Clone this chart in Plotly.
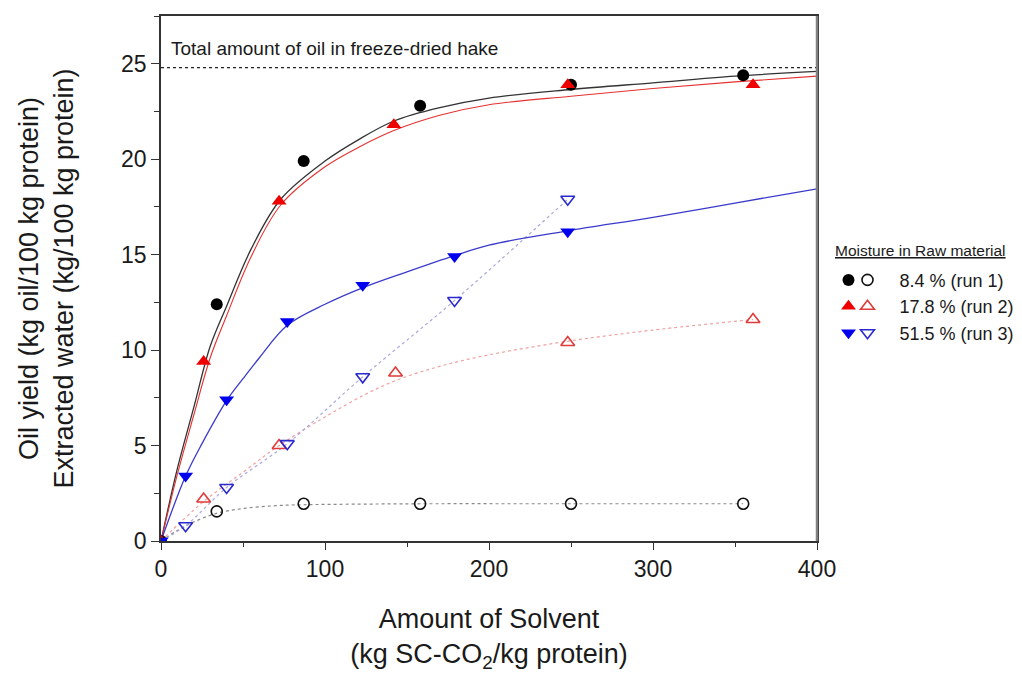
import plotly.graph_objects as go

# ---------------- data ----------------
# run 1 : 8.4 % moisture
solvent_oil_run1 = [0, 34, 87, 158, 250, 355]
oil_run1 = [0, 12.4, 19.9, 22.8, 23.9, 24.4]
solvent_water_run1 = [34, 87, 158, 250, 355]
water_run1 = [1.55, 1.95, 1.95, 1.95, 1.95]

# run 2 : 17.8 % moisture
solvent_oil_run2 = [0, 26, 72, 142, 248, 361]
oil_run2 = [0, 9.4, 17.8, 21.8, 23.9, 23.9]
solvent_water_run2 = [26, 72, 143, 248, 361]
water_run2 = [2.2, 5.0, 8.8, 10.4, 11.6]

# run 3 : 51.5 % moisture
solvent_oil_run3 = [0, 15, 40, 77, 123, 179, 248]
oil_run3 = [0, 3.4, 7.4, 11.5, 13.4, 14.9, 16.2]
solvent_water_run3 = [15, 40, 77, 123, 179, 248]
water_run3 = [0.8, 2.8, 5.1, 8.6, 12.6, 17.9]

# fitted curves (oil)
fit_x = [0, 10, 20, 30, 40, 55, 73, 100, 120, 142, 170, 200, 250, 300, 350, 400]
fit_oil_run1 = [0, 3.8, 7.0, 10.2, 12.3, 15.3, 17.9, 19.9, 21.0, 22.0, 22.7, 23.2, 23.65, 24.0, 24.35, 24.6]
fit_oil_run2 = [0, 3.5, 6.6, 9.6, 11.8, 14.9, 17.6, 19.6, 20.6, 21.5, 22.3, 22.85, 23.3, 23.7, 24.05, 24.35]
fit3_x = [0, 15, 25, 40, 50, 60, 77, 100, 124, 150, 179, 200, 248, 300, 350, 400]
fit_oil_run3 = [0, 3.4, 5.1, 7.35, 8.5, 9.6, 11.3, 12.4, 13.3, 14.1, 14.95, 15.5, 16.25, 16.95, 17.7, 18.45]

# fitted curves (water)
wfit1_x = [0, 10, 20, 34, 50, 70, 87, 120, 158, 250, 355]
wfit_run1 = [0, 0.55, 1.0, 1.45, 1.7, 1.85, 1.9, 1.93, 1.95, 1.95, 1.95]
wfit2_x = [0, 25, 50, 72, 100, 125, 143, 170, 200, 247, 300, 361]
wfit_run2 = [0, 2.0, 3.6, 5.0, 6.5, 7.7, 8.4, 9.15, 9.75, 10.45, 11.05, 11.6]
wfit3_x = [0, 15, 40, 77, 123, 179, 248]
wfit_run3 = [0, 0.8, 2.8, 5.1, 8.6, 12.6, 17.9]

total_oil = 24.8
x_range = [0, 400]
y_range = [0, 27.5]
x_ticks = [0, 100, 200, 300, 400]
y_ticks = [0, 5, 10, 15, 20, 25]

run_labels = ["8.4 % (run 1)", "17.8 % (run 2)", "51.5 % (run 3)"]

FONT = "Arial, Liberation Sans, sans-serif"
TXT = "#1a1a1a"

fig = go.Figure()

# ---- fitted curves ----
fig.add_trace(go.Scatter(x=wfit1_x, y=wfit_run1, mode="lines", line=dict(color="#8a8a8a", width=1.2, dash="dot", shape="spline"), showlegend=False, hoverinfo="skip"))
fig.add_trace(go.Scatter(x=wfit2_x, y=wfit_run2, mode="lines", line=dict(color="#f2a0a0", width=1.2, dash="dot", shape="spline"), showlegend=False, hoverinfo="skip"))
fig.add_trace(go.Scatter(x=wfit3_x, y=wfit_run3, mode="lines", line=dict(color="#a8a8dc", width=1.2, dash="dot", shape="spline"), showlegend=False, hoverinfo="skip"))
fig.add_trace(go.Scatter(x=fit_x, y=fit_oil_run1, mode="lines", line=dict(color="#333333", width=1.3, shape="spline"), showlegend=False, hoverinfo="skip"))
fig.add_trace(go.Scatter(x=fit_x, y=fit_oil_run2, mode="lines", line=dict(color="#e53030", width=1.1, shape="spline"), showlegend=False, hoverinfo="skip"))
fig.add_trace(go.Scatter(x=fit3_x, y=fit_oil_run3, mode="lines", line=dict(color="#3a3acc", width=1.3, shape="spline"), showlegend=False, hoverinfo="skip"))

# total oil line
fig.add_trace(go.Scatter(x=x_range, y=[total_oil, total_oil], mode="lines", line=dict(color="#222222", width=1.2, dash="3px,3px"), showlegend=False, hoverinfo="skip"))

# ---- open markers (water) ----
fig.add_trace(go.Scatter(x=solvent_water_run1, y=water_run1, mode="markers", name=run_labels[0], legend="legend",
                         marker=dict(symbol="circle-open", size=11, color="#111111", line=dict(width=1.6))))
fig.add_trace(go.Scatter(x=solvent_water_run2, y=water_run2, mode="markers", name=run_labels[1], legend="legend",
                         marker=dict(symbol="triangle-up-open", size=12, color="#e03a3a", line=dict(width=1.6))))
fig.add_trace(go.Scatter(x=solvent_water_run3, y=water_run3, mode="markers", name=run_labels[2], legend="legend",
                         marker=dict(symbol="triangle-down-open", size=12, color="#2a2ad0", line=dict(width=1.6))))

# ---- filled markers (oil) ----
fig.add_trace(go.Scatter(x=solvent_oil_run1, y=oil_run1, mode="markers", name=run_labels[0], legend="legend2",
                         marker=dict(symbol="circle", size=12, color="#000000")))
fig.add_trace(go.Scatter(x=solvent_oil_run2, y=oil_run2, mode="markers", name=run_labels[1], legend="legend2",
                         marker=dict(symbol="triangle-up", size=13, color="#ee0000")))
fig.add_trace(go.Scatter(x=solvent_oil_run3, y=oil_run3, mode="markers", name=run_labels[2], legend="legend2",
                         marker=dict(symbol="triangle-down", size=13, color="#0000ee")))

fig.add_annotation(x=5, y=25.8, xref="x", yref="y", xanchor="left", yanchor="middle",
                   text="Total amount of oil in freeze-dried hake", showarrow=False,
                   font=dict(family=FONT, size=19, color=TXT))

fig.add_annotation(x=1.024, y=0.553, xref="paper", yref="paper", xanchor="left", yanchor="middle",
                   text="<u>Moisture in Raw material</u>", showarrow=False,
                   font=dict(family=FONT, size=15.5, color=TXT))

# grey right-hand frame edge as in the reference
fig.add_shape(type="line", xref="paper", yref="paper", x0=1, x1=1, y0=0, y1=1,
              line=dict(color="#808080", width=2.5))

fig.update_layout(
    width=1022, height=682,
    paper_bgcolor="white", plot_bgcolor="white",
    margin=dict(l=152.5, r=212.5, t=6, b=148.5, pad=0),
    font=dict(family=FONT, color=TXT),
    legend=dict(x=1.0282, xanchor="left", y=0.532, yanchor="top", bgcolor="rgba(0,0,0,0)",
                font=dict(family=FONT, size=18, color=TXT), itemwidth=54, tracegroupgap=0),
    legend2=dict(x=1.0175, xanchor="left", y=0.532, yanchor="top", bgcolor="rgba(0,0,0,0)",
                 font=dict(family=FONT, size=18, color="rgba(0,0,0,0)"), itemwidth=30, tracegroupgap=0),
    xaxis=dict(range=x_range, tickvals=x_ticks, ticks="outside", ticklen=7, tickwidth=1.3, tickcolor="#333",
               showline=True, linecolor="#333333", linewidth=1.5, mirror=True, showgrid=False, zeroline=False,
               minor=dict(dtick=50, ticks="outside", ticklen=4, tickcolor="#333", tickwidth=1.2),
               tickfont=dict(family=FONT, size=23, color=TXT),
               title=dict(text="Amount of Solvent<br>(kg SC-CO<sub>2</sub>/kg protein)", standoff=28,
                          font=dict(family=FONT, size=27, color=TXT))),
    yaxis=dict(range=y_range, tickvals=y_ticks, ticks="outside", ticklen=8, tickwidth=1.3, tickcolor="#333",
               showline=True, linecolor="#333333", linewidth=1.5, mirror=True, showgrid=False, zeroline=False,
               minor=dict(dtick=2.5, ticks="outside", ticklen=5, tickcolor="#333", tickwidth=1.2),
               tickfont=dict(family=FONT, size=23, color=TXT),
               title=dict(text="Oil yield (kg oil/100 kg protein)<br>Extracted water (kg/100 kg protein)", standoff=40,
                          font=dict(family=FONT, size=27, color=TXT))),
)

fig.write_html("out.html")
